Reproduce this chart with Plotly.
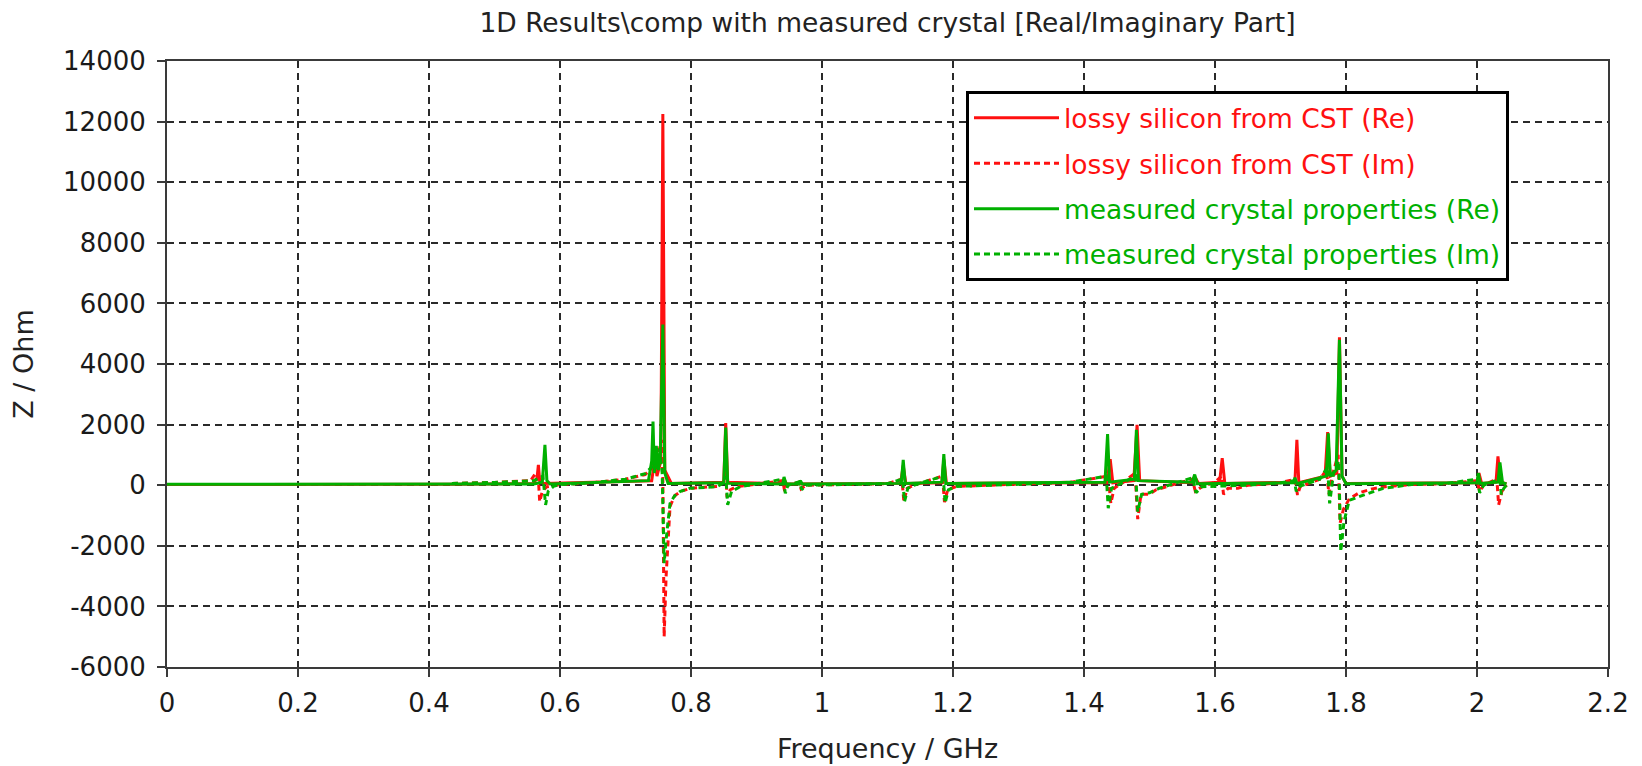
import plotly.graph_objects as go

# ---- data ----
x_ticks = [0, 0.2, 0.4, 0.6, 0.8, 1.0, 1.2, 1.4, 1.6, 1.8, 2.0, 2.2]
x_tick_labels = ["0", "0.2", "0.4", "0.6", "0.8", "1", "1.2", "1.4", "1.6", "1.8", "2", "2.2"]
y_ticks = [-6000, -4000, -2000, 0, 2000, 4000, 6000, 8000, 10000, 12000, 14000]
y_tick_labels = ["-6000", "-4000", "-2000", "0", "2000", "4000", "6000", "8000", "10000", "12000", "14000"]

series_names = [
    "lossy silicon from CST (Re)",
    "lossy silicon from CST (Im)",
    "measured crystal properties (Re)",
    "measured crystal properties (Im)",
]

cst_re_f = [0.000, 0.440, 0.560, 0.565, 0.567, 0.569, 0.575, 0.740, 0.745, 0.748, 0.754, 0.757, 0.760, 0.770,
            0.850, 0.853, 0.856, 0.940, 0.942, 0.946, 1.120, 1.124, 1.128, 1.183, 1.186, 1.190,
            1.435, 1.440, 1.444, 1.476, 1.481, 1.485, 1.566, 1.570, 1.575, 1.607, 1.611, 1.615,
            1.722, 1.725, 1.728, 1.768, 1.772, 1.776, 1.786, 1.790, 1.794, 1.800,
            2.000, 2.003, 2.007, 2.029, 2.032, 2.036, 2.045]
cst_re_z = [20, 30, 60, 250, 670, 150, 60, 150, 900, 300, 800, 12250, 500, 60,
            100, 2050, 100, 50, 200, 40, 60, 650, 60, 80, 850, 60,
            80, 860, 80, 150, 1990, 150, 80, 250, 60, 100, 890, 60,
            100, 1500, 80, 300, 1750, 300, 400, 4880, 300, 60,
            80, 400, 60, 100, 950, 100, 50]

cst_im_f = [0.435, 0.500, 0.555, 0.563, 0.567, 0.569, 0.573, 0.580, 0.600, 0.650, 0.700, 0.730, 0.740, 0.745,
            0.750, 0.755, 0.757, 0.759, 0.762, 0.768, 0.775, 0.785, 0.800, 0.840,
            0.850, 0.853, 0.855, 0.860, 0.870, 0.940, 0.943, 0.947, 0.965, 0.968, 0.975,
            1.100, 1.122, 1.125, 1.130, 1.140, 1.184, 1.187, 1.192, 1.205, 1.300, 1.380,
            1.437, 1.441, 1.446, 1.460, 1.478, 1.482, 1.487, 1.500, 1.510,
            1.565, 1.570, 1.580, 1.600, 1.610, 1.613, 1.620, 1.635, 1.650, 1.700,
            1.722, 1.726, 1.730, 1.760, 1.770, 1.774, 1.780, 1.788, 1.791, 1.796, 1.805, 1.820, 1.840, 1.860,
            1.900, 1.950, 2.000, 2.004, 2.010, 2.025, 2.030, 2.033, 2.038, 2.045]
cst_im_z = [60, 90, 150, 400, 200, -540, -200, -50, 20, 80, 200, 350, 560, 800,
            1000, 1500, 300, -5000, -3000, -700, -350, -200, -100, -40,
            100, 500, -400, -150, -50, 150, -200, 0, 100, -120, 0,
            50, 200, -540, -100, 0, 300, -560, -150, -40, 30, 100,
            300, -600, -100, 100, 400, -1120, -300, -300, -150,
            200, -200, -50, 100, 300, -300, -100, -100, 0, 80,
            200, -320, -50, 200, 500, -300, 400, 1000, -1250, -800, -450, -250, -120, -50,
            20, 50, 150, -200, 0, 150, 300, -650, -200, 0]

meas_re_f = [0.000, 0.560, 0.573, 0.577, 0.580, 0.585, 0.735, 0.740, 0.742, 0.744, 0.747, 0.750, 0.753,
             0.757, 0.760, 0.765, 0.850, 0.853, 0.856, 0.940, 0.942, 0.945, 0.965, 0.967, 0.970,
             1.121, 1.124, 1.127, 1.183, 1.186, 1.189, 1.432, 1.436, 1.439, 1.477, 1.480, 1.483,
             1.565, 1.569, 1.573, 1.720, 1.722, 1.725, 1.770, 1.773, 1.776, 1.785, 1.790, 1.794, 1.800,
             2.000, 2.002, 2.005, 2.032, 2.035, 2.039, 2.045]
meas_re_z = [30, 40, 100, 1330, 150, 40, 150, 800, 2100, 400, 1300, 500, 900,
             5300, 400, 60, 80, 1900, 60, 40, 270, 40, 40, 150, 40,
             60, 835, 60, 100, 1030, 60, 100, 1690, 100, 200, 1830, 150,
             100, 350, 50, 80, 250, 50, 300, 1715, 300, 500, 4800, 300, 50,
             80, 400, 60, 100, 750, 80, 40]

meas_im_f = [0.435, 0.500, 0.560, 0.574, 0.578, 0.582, 0.590, 0.600, 0.650, 0.700, 0.730, 0.740, 0.745,
             0.752, 0.756, 0.759, 0.762, 0.768, 0.775, 0.783, 0.798, 0.840,
             0.850, 0.853, 0.856, 0.862, 0.875, 0.941, 0.944, 0.948, 0.966, 0.969, 0.975,
             1.100, 1.123, 1.126, 1.131, 1.140, 1.185, 1.188, 1.193, 1.205, 1.300, 1.380,
             1.434, 1.437, 1.442, 1.460, 1.479, 1.482, 1.488, 1.500, 1.515,
             1.566, 1.571, 1.580, 1.650, 1.700, 1.721, 1.724, 1.730,
             1.760, 1.772, 1.775, 1.781, 1.789, 1.792, 1.797, 1.805, 1.830, 1.857,
             1.900, 1.950, 2.001, 2.004, 2.010, 2.030, 2.035, 2.037, 2.041, 2.045]
meas_im_z = [60, 90, 150, 300, -650, -200, -40, 20, 80, 200, 380, 600, 500,
             1200, 400, -2575, -1800, -600, -350, -210, -100, -50,
             80, 300, -650, -200, -50, 200, -270, 0, 120, -150, 0,
             50, 200, -540, -100, 0, 300, -590, -150, -40, 30, 100,
             300, -760, -100, 100, 300, -870, -300, -250, -100,
             250, -250, -50, 0, 80, 150, -200, -30,
             200, 600, -600, 400, 800, -2190, -1200, -500, -300, -100,
             20, 50, 200, -250, 0, 150, 200, -300, -100, 0]

# ---- styling ----
RED = "#ff1010"
GREEN = "#00b000"
FONT = "DejaVu Sans"

fig = go.Figure()
traces = [
    (cst_re_f, cst_re_z, RED, "solid", series_names[0], "a"),
    (cst_im_f, cst_im_z, RED, "6px,4px", series_names[1], "b"),
    (meas_re_f, meas_re_z, GREEN, "solid", series_names[2], "c"),
    (meas_im_f, meas_im_z, GREEN, "6px,4px", series_names[3], "d"),
]
for f, z, col, dash, name, grp in traces:
    fig.add_trace(go.Scatter(
        x=f, y=z, mode="lines",
        line=dict(color=col, width=3, dash=dash),
        name='<span style="color:%s">%s</span>' % (col, name),
        legendgroup=grp,
    ))

axis_common = dict(
    showline=True, mirror=True, linecolor="#3a3a3a", linewidth=2,
    ticks="outside", ticklen=8, tickcolor="#3a3a3a", tickwidth=2,
    showgrid=True, gridcolor="#2a2a2a", gridwidth=1.5, griddash="7px,5px",
    zeroline=False, automargin=False,
    tickfont=dict(family=FONT, size=26, color="#1a1a1a"),
)

fig.update_layout(
    width=1642, height=766,
    margin=dict(l=167, r=34, t=61, b=99),
    paper_bgcolor="white", plot_bgcolor="white",
    font=dict(family=FONT, color="#1a1a1a"),
    title=dict(text="1D Results\\comp with measured crystal [Real/Imaginary Part]",
               x=0.5, xref="paper", y=1 - 23 / 766, yref="container", yanchor="middle",
               font=dict(family=FONT, size=26.5, color="#222222"), automargin=False),
    xaxis=dict(range=[0, 2.2], tickmode="array", tickvals=x_ticks, ticktext=x_tick_labels,
               title=dict(text="Frequency / GHz", font=dict(family=FONT, size=27, color="#222222"), standoff=22),
               ticklabelstandoff=4, **axis_common),
    yaxis=dict(range=[-6000, 14000], tickmode="array", tickvals=y_ticks, ticktext=y_tick_labels,
               title=dict(text="Z / Ohm", font=dict(family=FONT, size=27, color="#222222"), standoff=22),
               ticklabelstandoff=6, **axis_common),
    showlegend=True,
    legend=dict(x=(966 - 167) / 1441, y=(667 - 91) / 606, xanchor="left", yanchor="top",
                bgcolor="white", bordercolor="black", borderwidth=3,
                font=dict(family=FONT, size=26.5),
                traceorder="grouped", tracegroupgap=8, itemwidth=85),
)

fig.write_html("out.html")
